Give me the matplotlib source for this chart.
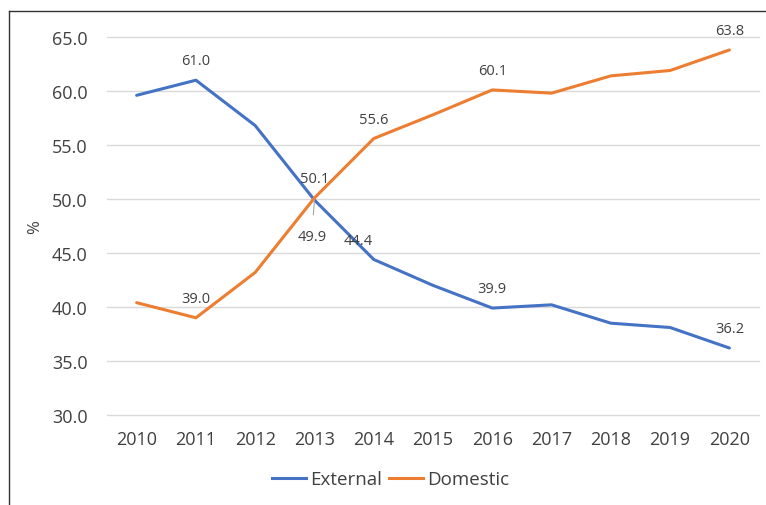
import matplotlib
matplotlib.use("Agg")
import matplotlib.pyplot as plt
from matplotlib.lines import Line2D

years = ["2010", "2011", "2012", "2013", "2014", "2015", "2016", "2017", "2018", "2019", "2020"]
external = [59.6, 61.0, 56.8, 49.9, 44.4, 42.0, 39.9, 40.2, 38.5, 38.1, 36.2]
domestic = [40.4, 39.0, 43.2, 50.1, 55.6, 57.8, 60.1, 59.8, 61.4, 61.9, 63.8]
yticks = [30.0, 35.0, 40.0, 45.0, 50.0, 55.0, 60.0, 65.0]

ext_labels = {1: (0, 14), 3: (0, -26), 4: (-11, 14), 6: (0, 14), 10: (0, 14)}
dom_labels = {1: (0, 14), 3: (0, 14), 4: (0, 14), 6: (0, 14), 10: (0, 14)}

plt.rcParams['font.family'] = ['Open Sans', 'DejaVu Sans']
blue = "#4472C4"
orange = "#ED7D31"
txt = "#404040"

fig = plt.figure(figsize=(7.66, 5.06), dpi=100)
ax = fig.add_axes([0.1397, 0.1779, 0.8512, 0.747])
x = list(range(len(years)))
ax.plot(x, external, color=blue, lw=2.2, solid_capstyle='round', zorder=3)
ax.plot(x, domestic, color=orange, lw=2.2, solid_capstyle='round', zorder=3)

lab_fs = 10.5
for i, (dx, dy) in ext_labels.items():
    if i == 3:
        ax.annotate(f"{external[i]:.1f}", (x[i], external[i]), xytext=(dx - 2, dy),
                    textcoords='offset points', ha='center', va='center', fontsize=lab_fs, color=txt,
                    arrowprops=dict(arrowstyle='-', color='#A6A6A6', lw=0.8, shrinkA=8, shrinkB=0))
    else:
        ax.annotate(f"{external[i]:.1f}", (x[i], external[i]), xytext=(dx, dy),
                    textcoords='offset points', ha='center', va='center', fontsize=lab_fs, color=txt)
for i, (dx, dy) in dom_labels.items():
    ax.annotate(f"{domestic[i]:.1f}", (x[i], domestic[i]), xytext=(dx, dy),
                textcoords='offset points', ha='center', va='center', fontsize=lab_fs, color=txt)

ax.set_xlim(-0.5, len(years) - 0.5)
ax.set_ylim(30, 65)
ax.set_xticks(x)
ax.set_xticklabels(years)
ax.set_yticks(yticks)
ax.set_yticklabels([f"{v:.1f}" for v in yticks])
ax.tick_params(axis='both', length=0, labelsize=13, colors=txt)
ax.tick_params(axis='y', pad=14)
ax.tick_params(axis='x', pad=11)
ax.grid(axis='y', color='#D9D9D9', lw=1)
for gl in ax.get_ygridlines():
    gl.set_clip_on(False)
ax.set_axisbelow(True)
for s in ax.spines.values():
    s.set_visible(False)
ax.set_ylabel("%", fontsize=12, color=txt)
ax.yaxis.set_label_coords(-0.098, 0.5)

handles = [Line2D([], [], color=blue, lw=2.2), Line2D([], [], color=orange, lw=2.2)]
fig.legend(handles, ["External", "Domestic"], loc='center', bbox_to_anchor=(0.51, 0.051),
           ncol=2, frameon=False, fontsize=13.5, handlelength=1.8, columnspacing=0.4,
           handletextpad=0.2, labelcolor=txt)

fig.add_artist(Line2D([0.0117, 0.0117], [0, 0.976], color='#333333', lw=1, transform=fig.transFigure))
fig.add_artist(Line2D([0.0117, 1.0], [0.976, 0.976], color='#333333', lw=1, transform=fig.transFigure))

fig.savefig("out.png", dpi=100)
